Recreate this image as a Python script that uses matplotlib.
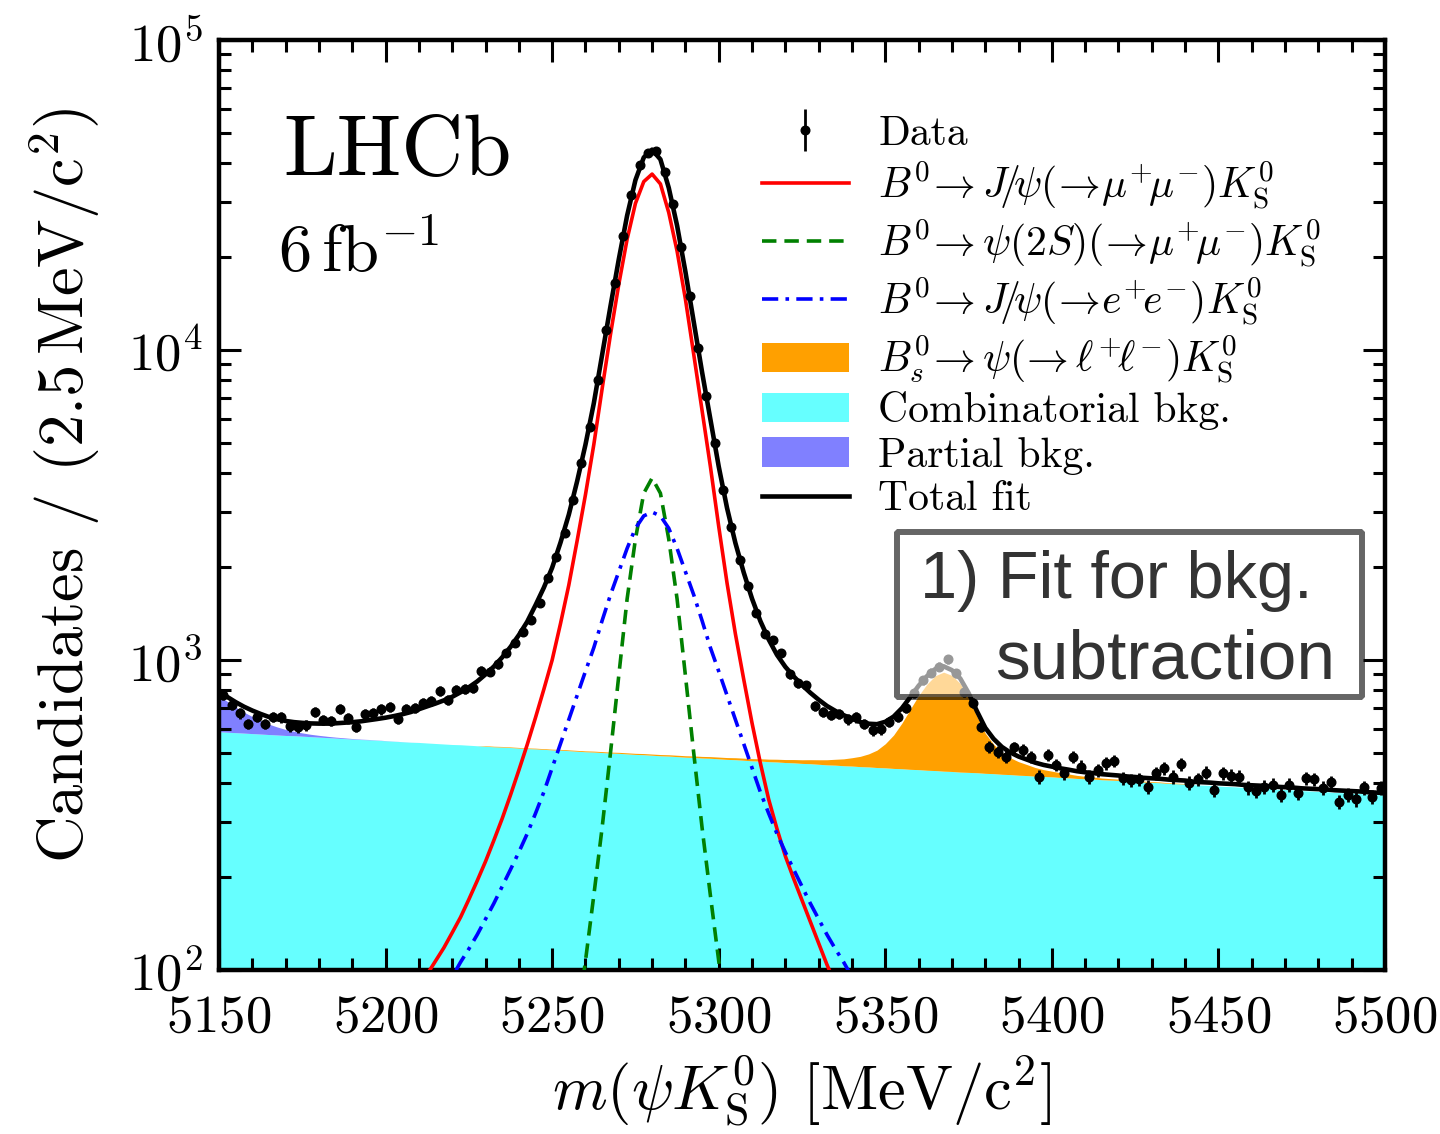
import numpy as np
import matplotlib
matplotlib.use("Agg")
import matplotlib.pyplot as plt
from matplotlib.patches import Patch, Rectangle
from matplotlib.lines import Line2D

plt.rcParams.update({
    "font.family": "serif",
    "font.serif": ["cmr10"],
    "mathtext.fontset": "cm",
    "axes.formatter.use_mathtext": True,
    "axes.unicode_minus": False,
})

# data: bin centres every 2.5 MeV from 5151.25 to 5498.75
bin_lo, bin_hi, bin_w = 5150.0, 5500.0, 2.5
counts = [
    771, 716, 673, 622, 656, 622, 656, 653, 612, 607,
    617, 681, 641, 637, 695, 649, 609, 668, 676, 693,
    704, 645, 695, 699, 725, 739, 794, 743, 800, 806,
    814, 924, 917, 968, 1056, 1132, 1234, 1346, 1531, 1844,
    2154, 2563, 3282, 4333, 5656, 8000, 11600, 16500, 23300, 31600,
    39500, 43300, 43900, 37600, 29600, 21450, 14930, 10120, 7110, 5000,
    3535, 2692, 2102, 1733, 1422, 1210, 1160, 1056, 901, 841,
    830, 711, 681, 665, 670, 644, 653, 622, 595, 597,
    632, 656, 699, 781, 862, 910, 952, 1005, 906, 790,
    725, 609, 525, 506, 488, 523, 513, 488, 420, 494,
    459, 431, 486, 453, 420, 442, 464, 472, 415, 410,
    412, 390, 431, 447, 420, 461, 402, 412, 433, 381,
    431, 423, 420, 388, 378, 390, 395, 367, 395, 372,
    415, 412, 386, 403, 349, 367, 355, 388, 362, 386,
]

# fit components sampled every 2.5 MeV from 5150 to 5500
comb_bkg = [
    587, 585, 583, 581, 579, 577, 575, 573, 571, 570, 568,
    566, 564, 562, 560, 558, 556, 554, 553, 551, 549,
    547, 545, 543, 542, 540, 538, 536, 534, 533, 531,
    529, 527, 525, 524, 522, 520, 518, 517, 515, 513,
    512, 510, 508, 506, 505, 503, 501, 500, 498, 496,
    495, 493, 491, 490, 488, 486, 485, 483, 482, 480,
    478, 477, 475, 473, 472, 470, 469, 467, 466, 464,
    463, 461, 459, 458, 456, 455, 453, 452, 450, 449,
    447, 446, 444, 443, 441, 440, 438, 437, 435, 434,
    433, 431, 430, 428, 427, 425, 424, 422, 421, 420,
    418, 417, 415, 414, 413, 411, 410, 409, 407, 406,
    404, 403, 402, 400, 399, 398, 396, 395, 394, 392,
    391, 390, 388, 387, 386, 385, 383, 382, 381, 379,
    378, 377, 376, 374, 373, 372, 371, 369, 368, 367,
]
jpsi_mumu = [
    11, 11.5, 12, 13, 14, 15, 16, 17, 19, 20,
    22, 24, 26, 28, 31, 34, 37, 41, 45, 50,
    55, 61, 68, 76, 86, 97, 107, 118, 132, 148,
    169, 194, 224, 262, 308, 367, 441, 533, 652, 804,
    1000, 1310, 1745, 2426, 3416, 4952, 7502, 11211, 16288, 22772,
    29718, 34937, 36943, 34341, 27754, 20847, 14594, 9682, 6369, 4208,
    2697, 1770, 1215, 867, 626, 465, 355, 285, 233, 197,
    168, 143, 122, 104, 90, 78, 67, 58, 50, 43,
    37, 32, 27.5, 24, 21, 18, 15.5, 13.5, 11.5, 10,
    8.8, 7.7, 6.8, 6.0, 5.4, 5.0, 4.7, 4.4, 4.2, 4.0,
    3.8, 3.7, 3.5, 3.4, 3.3, 3.2, 3.1, 3.0, 2.9, 2.8,
    2.7, 2.7, 2.6, 2.5, 2.5, 2.4, 2.4, 2.3, 2.3, 2.2,
    2.2, 2.1, 2.1, 2.0, 2.0, 2.0, 1.9, 1.9, 1.9, 1.8,
    1.8, 1.8, 1.7, 1.7, 1.7, 1.7, 1.6, 1.6, 1.6, 1.6, 1.5,
]
jpsi_ee = [
    13, 13.5, 14.5, 15, 16, 17, 18, 19, 20, 21.5,
    23, 24.5, 26, 28, 30, 32.5, 35, 37.5, 40.5, 43.5,
    47, 51, 55, 60, 66, 72, 79, 87, 95,
    106, 117, 130, 146, 164, 186, 211, 240, 275, 320,
    375, 449, 537, 643, 769, 920, 1096, 1340, 1622, 1928,
    2291, 2661, 2917, 3000,
    2917, 2661, 2291, 1928, 1622, 1340, 1096, 920, 769, 643,
    537, 449, 375, 320, 275, 240, 211, 186, 164, 146,
    130, 117, 106, 95,
    84, 75, 66, 58, 52, 46, 41, 37, 33, 30,
    27, 24, 22, 20, 18.5, 17,
    16, 15, 14.3, 13.6, 13, 12.4, 11.8, 11.3, 10.8, 10.4,
    10, 9.6, 9.3, 9, 8.7, 8.4, 8.1, 7.9, 7.6, 7.4,
    7.2, 7, 6.8, 6.6, 6.4, 6.3, 6.1, 6, 5.8, 5.7,
    5.6, 5.5, 5.3, 5.2, 5.1, 5.0, 4.9, 4.8, 4.7, 4.6,
    4.5, 4.4, 4.3, 4.2, 4.1, 4.0, 3.9, 3.8,
]
psi2s_start = 5245.0
psi2s_mumu = [
    11, 15, 21, 30, 44, 68, 107, 174, 288, 501,
    891, 1574, 2455, 3451, 3864, 3451, 2455, 1574, 891, 501,
    288, 174, 107, 68, 44, 30, 21, 15, 11,
]
bs_start = 5230.0
bs_peak = [
    2.0, 2.1, 2.2, 2.3, 2.4, 2.5, 2.6, 2.7, 2.8, 2.9,
    3.0, 3.1, 3.2, 3.3, 3.45, 3.6, 3.75, 3.9, 4.05, 4.2,
    4.4, 4.6, 4.8, 5.0, 5.2, 5.4, 5.7, 6.0, 6.3, 6.6,
    7.0, 7.4, 7.8, 8.3, 8.9, 9.6, 10.5, 11.5, 12.7, 14,
    15.7, 17.8, 20.5, 24, 29, 36, 46, 62, 88, 126,
    180, 250, 325, 395, 450, 476, 455, 405, 320, 225,
    150, 105, 76, 57, 45, 36, 28, 22, 18, 15,
    12, 9.5, 7.5, 6.2, 5.2, 4.4, 3.8, 3.3, 2.9, 2.6,
    2.3, 2.1, 1.9, 1.7, 1.5,
]
partial_start = 5150.0
partial_bkg = [
    180, 150, 122, 98, 78, 61, 46, 35, 26, 19,
    14, 10, 7.5, 5.5, 4, 3, 2.2, 1.6, 1.2, 0.9,
    0.6, 0.4, 0.3, 0.2, 0.1,
]

mass = np.arange(bin_lo, bin_hi + 0.1, bin_w)
centres = np.arange(bin_lo + bin_w / 2, bin_hi, bin_w)
counts = np.array(counts, dtype=float)


def on_grid(values, start):
    arr = np.zeros(len(mass))
    i0 = int(round((start - bin_lo) / bin_w))
    arr[i0:i0 + len(values)] = values
    return arr


comb = np.array(comb_bkg, dtype=float)
red = np.array(jpsi_mumu, dtype=float)
blue = np.array(jpsi_ee, dtype=float)
green = on_grid(psi2s_mumu, psi2s_start)
bs = on_grid(bs_peak, bs_start)
part = on_grid(partial_bkg, partial_start)

lvl_part = comb + part
lvl_bs = lvl_part + bs
total = lvl_bs + red + blue + green

fig = plt.figure(figsize=(14.4, 11.34), dpi=100)
ax = fig.add_axes([0.1521, 0.1446, 0.8097, 0.8201])

c_cyan, c_purple, c_orange = "#66ffff", "#8080ff", "#ffa000"
ax.fill_between(mass, 1, comb, color=c_cyan, lw=0, zorder=1)
ax.fill_between(mass, comb, lvl_part, color=c_purple, lw=0, zorder=1)
ax.fill_between(mass, lvl_part, lvl_bs, color=c_orange, lw=0, zorder=1)

ig = int(round((psi2s_start - bin_lo) / bin_w))
ax.plot(mass, red, color="red", lw=2.6, zorder=3)
ax.plot(mass[ig:ig + len(psi2s_mumu)], psi2s_mumu, color="#008000", lw=2.6,
        dashes=(4, 2.2), zorder=3)
ax.plot(mass, blue, color="blue", lw=2.6, dashes=(4.5, 2, 1, 2), zorder=3)
ax.plot(mass, total, color="black", lw=3.3, zorder=4)

data = ax.errorbar(centres, counts, yerr=np.sqrt(counts), fmt="o", color="black",
                   ms=6.2, elinewidth=2, capsize=0, zorder=5)

ax.set_yscale("log")
ax.set_xlim(bin_lo, bin_hi)
ax.set_ylim(100, 1e5)
ax.set_xticks(np.arange(5150, 5501, 50))
ax.set_xticks(np.arange(5150, 5501, 10), minor=True)
ax.tick_params(which="both", direction="in", top=True, right=True, width=2.2,
               labelsize=38, pad=12)
ax.tick_params(axis="x", which="major", pad=18)
ax.tick_params(which="major", length=16)
ax.tick_params(which="minor", length=8.5)
for s in ax.spines.values():
    s.set_linewidth(3.2)

ax.set_xlabel(r"$m(\psi K^0_{\mathrm{S}})$ [MeV/c$^2$]", fontsize=45, labelpad=8)
ax.set_ylabel(r"Candidates / (2.5$\,$MeV/c$^2$)", fontsize=46.5)
ax.yaxis.set_label_coords(-0.1, 0.5215)

ax.text(0.055, 0.855, "LHCb", transform=ax.transAxes, fontsize=62,
        va="baseline", ha="left")
ax.text(0.051, 0.7505, r"$6\,\mathrm{fb}^{-1}$", transform=ax.transAxes,
        fontsize=48, va="baseline", ha="left")

handles = [
    data,
    Line2D([], [], color="red", lw=2.6),
    Line2D([], [], color="#008000", lw=2.6, dashes=(4, 2.2)),
    Line2D([], [], color="blue", lw=2.6, dashes=(4.5, 2, 1, 2)),
    Patch(color=c_orange, lw=0),
    Patch(color=c_cyan, lw=0),
    Patch(color=c_purple, lw=0),
    Line2D([], [], color="black", lw=3.3),
]
labels = [
    "Data",
    r"$B^0\!\rightarrow J\!/\!\psi(\!\rightarrow\!\mu^{+}\!\mu^{-})K^0_{\mathrm{S}}$",
    r"$B^0\!\rightarrow\psi(2S)(\!\rightarrow\!\mu^{+}\!\mu^{-})K^0_{\mathrm{S}}$",
    r"$B^0\!\rightarrow J\!/\!\psi(\!\rightarrow\!e^{+}\!e^{-})K^0_{\mathrm{S}}$",
    r"$B^0_s\!\rightarrow\psi(\!\rightarrow\ell^{+}\!\ell^{-})K^0_{\mathrm{S}}$",
    "Combinatorial bkg.",
    "Partial bkg.",
    "Total fit",
]
leg = ax.legend(handles, labels, loc="upper left", bbox_to_anchor=(0.451, 0.937),
                frameon=False, fontsize=30, handlelength=2.1, handletextpad=0.7,
                labelspacing=0.15, borderaxespad=0)
leg.set_zorder(20)

box = Rectangle((0.5815, 0.2935), 0.3988, 0.1775, transform=ax.transAxes,
                facecolor=(1, 1, 1, 0.6), edgecolor=(0, 0, 0, 0.6), lw=4.3,
                joinstyle="bevel", zorder=10)
ax.add_patch(box)
ax.text(0.601, 0.40, "1) Fit for bkg.", transform=ax.transAxes, fontsize=48,
        family="Liberation Sans", color="#333333", va="baseline", zorder=11)
ax.text(0.6655, 0.314, "subtraction", transform=ax.transAxes, fontsize=50,
        family="Liberation Sans", color="#333333", va="baseline", zorder=11)

fig.savefig("out.png", dpi=100)
